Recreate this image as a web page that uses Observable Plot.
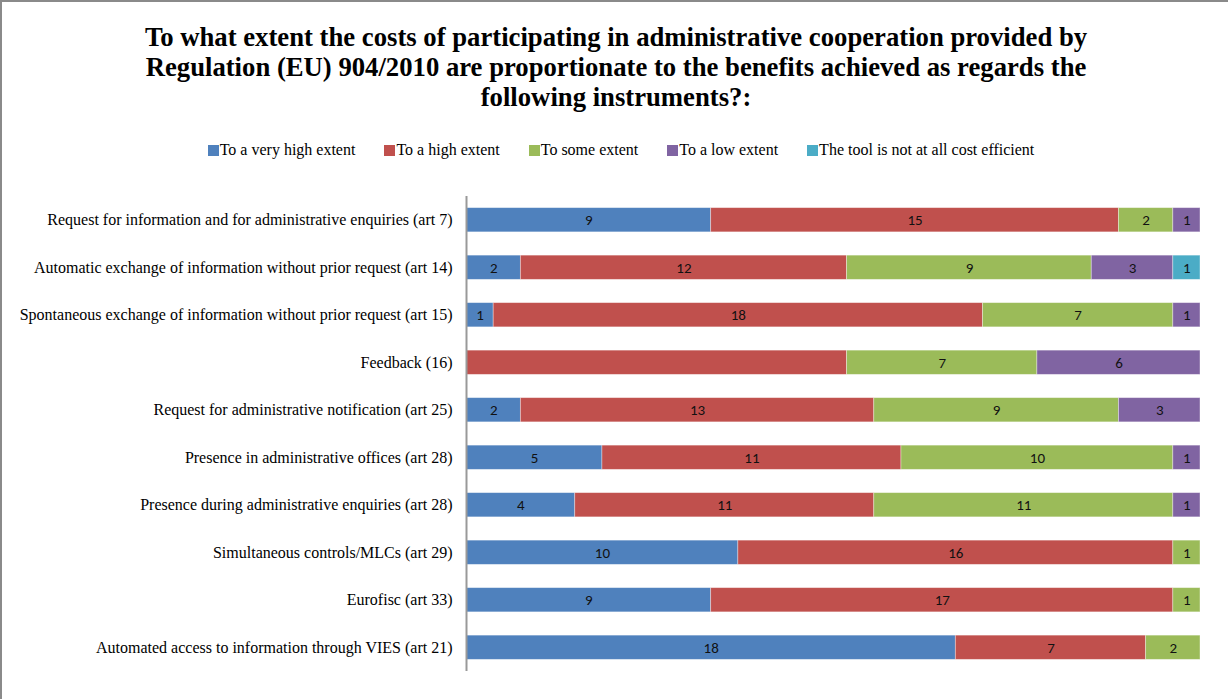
<!DOCTYPE html>
<html>
<head>
<meta charset="utf-8">
<script src="https://cdn.jsdelivr.net/npm/d3@7"></script>
<script src="https://cdn.jsdelivr.net/npm/@observablehq/plot@0.6"></script>
<style>
  html, body { margin: 0; padding: 0; background: #fff; }
  #frame { position: relative; width: 1226px; height: 697px; border-top: 2px solid #8a8a8a; border-left: 2px solid #8a8a8a; overflow: hidden; font-family: "Liberation Serif", "Times New Roman", serif; }
  #title { position: absolute; top: 20px; left: 0; width: 1228px; text-align: center; font-weight: bold; font-size: 26.7px; line-height: 30px; color: #000; }
  #legend { position: absolute; top: 139px; left: 0; width: 1238px; display: flex; justify-content: center; gap: 29px; font-size: 16px; color: #000; }
  #legend .item { display: flex; align-items: center; }
  #legend .sw { width: 11px; height: 11px; margin-right: 1px; }
  #chart { position: absolute; top: 188px; left: -2px; }
</style>
</head>
<body>
<div id="frame">
  <div id="title">To what extent the costs of participating in administrative cooperation provided by<br>Regulation (EU) 904/2010 are proportionate to the benefits achieved as regards the<br>following instruments?:</div>
  <div id="legend"></div>
  <div id="chart"></div>
</div>
<script>
const items = [
  "Request for information and for administrative enquiries (art 7)",
  "Automatic exchange of information without prior request (art 14)",
  "Spontaneous exchange of information without prior request (art 15)",
  "Feedback (16)",
  "Request for administrative notification (art 25)",
  "Presence in administrative offices (art 28)",
  "Presence during administrative enquiries (art 28)",
  "Simultaneous controls/MLCs (art 29)",
  "Eurofisc (art 33)",
  "Automated access to information through VIES (art 21)"
];
const categories = [
  "To a very high extent",
  "To a high extent",
  "To some extent",
  "To a low extent",
  "The tool is not at all cost efficient"
];
const colors = ["#4F81BD", "#C0504D", "#9BBB59", "#8064A2", "#4BACC6"];
const veryHigh = [9, 2, 1, 0, 2, 5, 4, 10, 9, 18];
const high     = [15, 12, 18, 14, 13, 11, 11, 16, 17, 7];
const some     = [2, 9, 7, 7, 9, 10, 11, 1, 1, 2];
const low      = [1, 3, 1, 6, 3, 1, 1, 0, 0, 0];
const notAtAll = [0, 1, 0, 0, 0, 0, 0, 0, 0, 0];
// labels not shown in the original
const hiddenLabels = [["Feedback (16)", "To a high extent"]];

const series = [veryHigh, high, some, low, notAtAll];
const data = [];
categories.forEach((cat, ci) => {
  items.forEach((item, i) => {
    data.push({item, cat, value: series[ci][i]});
  });
});
const nonZero = data.filter(d => d.value > 0);
const isHidden = d => hiddenLabels.some(([it, c]) => it === d.item && c === d.cat);

// legend
const legend = document.getElementById("legend");
categories.forEach((c, i) => {
  const el = document.createElement("div");
  el.className = "item";
  el.innerHTML = `<span class="sw" style="background:${colors[i]}"></span><span>${c}</span>`;
  legend.appendChild(el);
});

const chart = Plot.plot({
  width: 1228,
  height: 511,
  marginLeft: 466,
  marginRight: 28,
  marginTop: 6,
  marginBottom: 30,
  style: {background: "transparent", overflow: "visible"},
  x: {domain: [0, 27], axis: null},
  y: {domain: items, paddingInner: 0.49, paddingOuter: 0.245, round: false, label: null, axis: null},
  color: {domain: categories, range: colors},
  marks: [
    Plot.axisY({tickSize: 0, tickPadding: 14, fontSize: 16, fontFamily: "Liberation Serif, Times New Roman, serif", fill: "#000", label: null}),
    Plot.barX(nonZero, Plot.stackX({x: "value", y: "item", fill: "cat", order: categories, stroke: "#ffffff", strokeOpacity: 0.45, strokeWidth: 0.8})),
    Plot.text(nonZero, Plot.stackX({x: "value", y: "item", z: "cat", order: categories, text: d => isHidden(d) ? "" : String(d.value), fontSize: 15, fontFamily: "Carlito, Open Sans, Noto Sans, sans-serif", fill: "#111"})),
    Plot.ruleX([0], {stroke: "#999", strokeWidth: 2})
  ]
});
document.getElementById("chart").appendChild(chart);
</script>
</body>
</html>
